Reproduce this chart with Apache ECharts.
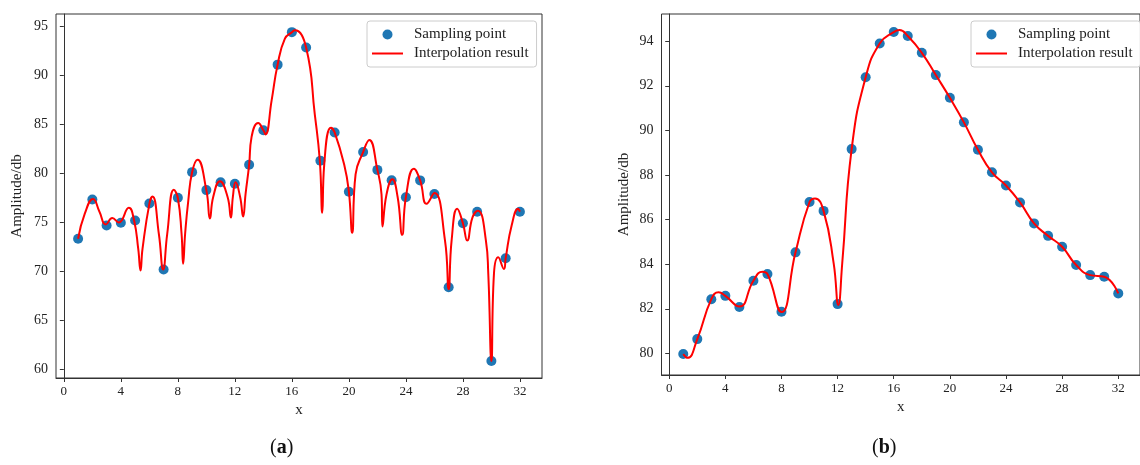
<!DOCTYPE html>
<html>
<head>
<meta charset="utf-8">
<script src="https://cdn.jsdelivr.net/npm/echarts@6/dist/echarts.min.js"></script>
<style>
html,body{margin:0;padding:0;background:#fff;}
#main{width:1140px;height:465px;}
</style>
</head>
<body>
<div id="main"></div>
<script>
// ---------- data ----------
var sampleX = [1,2,3,4,5,6,7,8,9,10,11,12,13,14,15,16,17,18,19,20,21,22,23,24,25,26,27,28,29,30,31,32];
var sampleA = [73.34,77.35,74.69,74.97,75.2,76.94,70.2,77.52,80.13,78.3,79.1,78.95,80.88,84.4,91.09,94.4,92.84,81.3,84.18,78.13,82.18,80.36,79.3,77.58,79.29,77.9,68.4,74.93,76.1,60.88,71.35,76.1];
var sampleB = [79.97,80.64,82.43,82.58,82.08,83.26,83.56,81.87,84.53,86.79,86.39,82.21,89.16,92.38,93.9,94.41,94.23,93.48,92.48,91.46,90.36,89.13,88.12,87.53,86.77,85.83,85.27,84.78,83.96,83.51,83.44,82.69];

// interpolation curve (a)
var curveAX = [1,1.47,2.05,2.5,2.95,3.4,3.85,4.56,4.93,5.22,5.38,5.52,6.01,6.22,6.67,6.97,7.25,7.72,8.0,8.26,8.37,8.51,8.73,9.0,9.38,10.0,10.25,10.48,10.95,11.49,11.72,11.86,12.05,12.37,12.58,12.75,13.0,13.17,13.64,14.0,14.15,14.58,15.0,15.51,16.0,16.21,17.0,17.61,17.96,18.13,18.27,18.74,19.0,19.67,20.0,20.23,20.47,21.0,21.43,22.0,22.29,22.36,22.64,23.05,23.42,23.74,24.0,24.56,25.0,25.45,26.0,26.74,27.0,27.21,27.6,28.0,28.3,28.68,29.05,29.61,29.78,30.0,30.18,30.48,30.88,31.0,31.42,31.88,32.0];
var curveAY = [73.34,75.9,77.4,76.1,74.8,75.45,75.0,76.5,75.2,72.3,70.1,72.3,76.97,77.65,73.8,70.2,73.8,78.34,77.5,73.85,70.8,73.85,77.2,80.13,81.4,78.3,75.4,77.6,79.2,77.6,75.5,77.6,79.1,77.6,75.6,77.9,80.88,83.7,85.13,84.4,83.98,87.45,91.09,93.74,94.4,94.6,92.84,86.0,81.3,76.0,80.9,84.66,84.18,80.9,78.13,73.95,79.9,82.18,83.4,80.36,77.86,74.6,77.86,79.4,77.6,73.74,77.58,80.48,79.29,76.9,78.0,73.2,68.2,73.2,76.4,74.93,73.16,75.55,76.2,73.2,69.8,60.88,69.8,71.46,70.27,71.35,74.7,76.4,76.1];

// interpolation curve (b)
var curveBX = [1,1.31,2,3,3.52,4,5,6,6.64,7,8,9,10,10.39,11,11.72,12.05,12.33,13,14,15,16,16.41,17,18,19,20,21,22,23,24,25,26,27,28,29,30,31,32];
var curveBY = [79.97,79.8,80.64,82.43,82.74,82.58,82.1,83.26,83.66,83.56,81.85,84.53,86.79,86.95,86.39,84.04,82.17,84.04,89.16,92.38,93.9,94.41,94.5,94.23,93.48,92.48,91.46,90.36,89.13,88.12,87.53,86.77,85.83,85.27,84.78,83.96,83.51,83.44,82.69];

var xTicks = [0,4,8,12,16,20,24,28,32];
var yTicksA = [60,65,70,75,80,85,90,95];
var yTicksB = [80,82,84,86,88,90,92,94];

// ---------- build ----------
function zip(xs, ys){ return xs.map(function(x,i){ return [x, ys[i]]; }); }

var FONT = 'Liberation Serif';
var axisCol = '#333';

function xAxisCfg(gi){
  return {
    type:'value', gridIndex:gi, min:-0.55, max:33.55,
    name:'x', nameLocation:'middle', nameGap:24,
    nameTextStyle:{fontFamily:FONT, fontSize:15, color:'#222'},
    axisLine:{show:true, lineStyle:{color:axisCol, width:1}},
    axisTick:{show:true, inside:false, length:4, customValues:xTicks, lineStyle:{color:axisCol}},
    axisLabel:{customValues:xTicks, margin:7, fontFamily:FONT, fontSize:13, color:'#222'},
    splitLine:{show:false}
  };
}
function yAxisCfg(gi, mn, mx, ticks, gap){
  return {
    type:'value', gridIndex:gi, min:mn, max:mx,
    name:'Amplitude/db', nameLocation:'middle', nameGap:gap, nameRotate:90,
    nameTextStyle:{fontFamily:FONT, fontSize:15, color:'#222'},
    axisLine:{show:true, lineStyle:{color:axisCol, width:1}},
    axisTick:{show:true, inside:false, length:4, customValues:ticks, lineStyle:{color:axisCol}},
    axisLabel:{customValues:ticks, margin:8, fontFamily:FONT, fontSize:14, color:'#222'},
    splitLine:{show:false}
  };
}
function legendCfg(left){
  return {
    left:left, top:21, orient:'vertical',
    backgroundColor:'rgba(255,255,255,0.9)', borderColor:'#cccccc', borderWidth:1, borderRadius:3,
    padding:[6,8,6,5], itemGap:4, itemWidth:31, itemHeight:10,
    textStyle:{fontFamily:FONT, fontSize:15, color:'#222', padding:[0,0,0,6]},
    data:[
      {name:'Sampling point', icon:'circle', itemStyle:{color:'#1f77b4', opacity:1}},
      {name:'Interpolation result', icon:'path://M0,0h31v2h-31z', itemStyle:{color:'#ff0000'}}
    ]
  };
}

var option = {
  animation:false,
  backgroundColor:'#fff',
  grid:[
    {left:56, top:14, width:486, height:364, show:true, borderColor:axisCol, borderWidth:1, backgroundColor:'transparent'},
    {left:661.5, top:14, width:485, height:361, show:true, borderColor:axisCol, borderWidth:1, backgroundColor:'transparent'}
  ],
  xAxis:[xAxisCfg(0), xAxisCfg(1)],
  yAxis:[yAxisCfg(0,59.15,96.25,yTicksA,31), yAxisCfg(1,79.03,95.22,yTicksB,30)],
  legend:[legendCfg(367), legendCfg(971)],
  series:[
    {name:'Sampling point', type:'scatter', xAxisIndex:0, yAxisIndex:0, symbolSize:10,
     itemStyle:{color:'#1f77b4', opacity:1}, data:zip(sampleX, sampleA), z:2},
    {name:'Interpolation result', type:'line', xAxisIndex:0, yAxisIndex:0, smooth:0.5, symbol:'none',
     lineStyle:{color:'#ff0000', width:2}, itemStyle:{color:'#ff0000'}, data:zip(curveAX, curveAY), z:3},
    {name:'Sampling point', type:'scatter', xAxisIndex:1, yAxisIndex:1, symbolSize:10,
     itemStyle:{color:'#1f77b4', opacity:1}, data:zip(sampleX, sampleB), z:2},
    {name:'Interpolation result', type:'line', xAxisIndex:1, yAxisIndex:1, smooth:0.5, symbol:'none',
     lineStyle:{color:'#ff0000', width:2}, itemStyle:{color:'#ff0000'}, data:zip(curveBX, curveBY), z:3}
  ],
  graphic:[
    {type:'text', left:270, top:438, style:{text:'({a|a})', font:'20px "Liberation Serif"', fill:'#111',
      rich:{a:{fontFamily:FONT, fontWeight:'bold', fontSize:20, fill:'#111'}}}},
    {type:'text', left:872, top:438, style:{text:'({a|b})', font:'20px "Liberation Serif"', fill:'#111',
      rich:{a:{fontFamily:FONT, fontWeight:'bold', fontSize:20, fill:'#111'}}}}
  ]
};

var chart = echarts.init(document.getElementById('main'), null, {renderer:'canvas'});
chart.setOption(option);
</script>
</body>
</html>
